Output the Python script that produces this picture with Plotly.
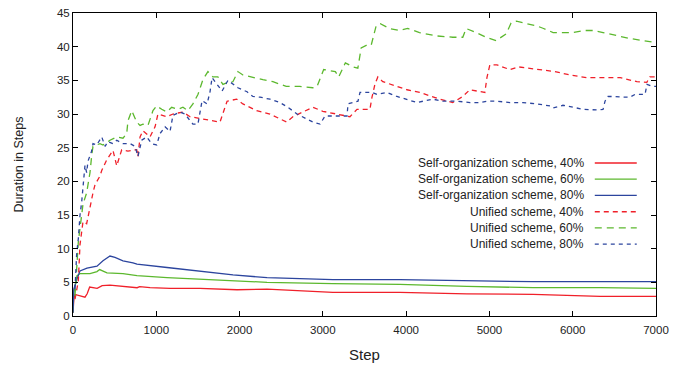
import plotly.graph_objects as go

# ---- Self-organization scheme (solid lines) ----
so40_step = [0, 10, 24, 84, 144, 170, 200, 290, 350, 444, 600, 770, 800, 925, 1165,
             1525, 1970, 2330, 3120, 3925, 4730, 5525, 6330, 7000]
so40_val = [0.5, 2.5, 3.2, 3.0, 2.8, 3.3, 4.3, 4.1, 4.5, 4.6, 4.4, 4.2, 4.35, 4.2, 4.1,
            4.1, 3.9, 4.0, 3.5, 3.5, 3.3, 3.2, 2.9, 2.9]

so60_step = [0, 10, 48, 84, 204, 288, 320, 408, 600, 768, 1129, 1525, 1981, 2330,
             3120, 3925, 4730, 5525, 6330, 7000]
so60_val = [0.5, 3.5, 6.0, 6.3, 6.3, 6.6, 6.9, 6.4, 6.3, 6.0, 5.7, 5.5, 5.2, 5.0,
            4.8, 4.7, 4.4, 4.2, 4.2, 4.1]

so80_step = [0, 10, 48, 84, 168, 288, 360, 408, 444, 504, 600, 720, 768, 1129, 1525,
             1921, 2330, 2725, 3120, 3925, 4730, 5525, 7000]
so80_val = [0.5, 4.0, 5.5, 6.7, 7.1, 7.4, 8.2, 8.6, 8.9, 8.7, 8.2, 7.9, 7.7, 7.2, 6.6,
            6.1, 5.7, 5.5, 5.4, 5.4, 5.2, 5.1, 5.1]

# ---- Unified scheme (dashed lines) ----
un40_step = [24, 64, 84, 104, 120, 164, 204, 240, 264, 324, 345, 405, 480, 525, 585,
             660, 765, 780, 805, 840, 925, 985, 1020, 1125, 1200, 1320, 1405, 1525,
             1680, 1765, 1850, 1965, 2040, 2205, 2365, 2485, 2565, 2640, 2760, 2880,
             3000, 3170, 3325, 3410, 3565, 3590, 3625, 3660, 3720, 3890, 4010, 4165,
             4320, 4405, 4560, 4680, 4765, 4885, 4945, 4970, 5005, 5090, 5245, 5345,
             5485, 5645, 5785, 5965, 6170, 6365, 6570, 6770, 6890, 6925, 7000]
un40_val = [2.5, 5.2, 10.6, 12.5, 14.0, 13.7, 16.4, 18.3, 19.5, 20.8, 21.6, 23.2, 24.6,
            22.3, 24.7, 24.5, 24.7, 23.7, 26.6, 27.5, 26.6, 28.1, 30.0, 29.6, 30.0,
            30.3, 29.6, 29.3, 29.0, 28.8, 31.9, 32.2, 31.5, 30.5, 30.0, 29.3, 28.8,
            29.6, 30.3, 31.0, 30.4, 30.0, 29.6, 30.7, 30.7, 32.5, 34.4, 35.5, 34.8,
            34.1, 33.6, 33.2, 32.5, 32.2, 31.7, 32.6, 33.6, 33.3, 33.2, 35.4, 37.3,
            37.3, 36.6, 37.0, 36.8, 36.6, 36.3, 35.8, 35.4, 35.4, 35.4, 34.8, 34.7,
            35.5, 35.5]

un60_step = [24, 64, 104, 120, 164, 180, 204, 225, 240, 324, 360, 444, 525, 600, 645,
             660, 705, 765, 805, 840, 900, 960, 1005, 1065, 1125, 1185, 1260, 1320,
             1380, 1440, 1500, 1560, 1620, 1680, 1740, 1800, 1860, 1920, 1980, 2040,
             2160, 2280, 2400, 2560, 2720, 2880, 2930, 3010, 3150, 3190, 3270, 3360,
             3420, 3460, 3520, 3580, 3640, 3690, 3800, 3920, 4020, 4160, 4360, 4560,
             4680, 4720, 4840, 4960, 5080, 5200, 5260, 5325, 5450, 5565, 5650, 5765,
             5885, 6005, 6130, 6250, 6365, 6530, 6690, 6850, 7000]
un60_val = [3.0, 11.0, 15.0, 16.6, 18.3, 19.4, 21.3, 23.9, 25.2, 25.6, 25.4, 26.1, 26.6,
            26.4, 27.1, 29.0, 30.5, 28.8, 28.3, 28.5, 28.3, 30.5, 31.2, 30.7, 30.3,
            31.0, 30.7, 31.0, 30.5, 31.5, 32.9, 35.1, 36.3, 35.5, 35.5, 34.4, 34.7,
            34.8, 36.3, 35.8, 35.4, 35.1, 34.8, 34.1, 34.1, 33.9, 34.1, 36.6, 36.3,
            35.5, 37.6, 37.0, 36.8, 39.8, 40.2, 40.2, 43.1, 43.4, 42.7, 42.4, 42.7,
            42.1, 41.6, 41.4, 41.4, 42.7, 42.1, 41.4, 40.9, 41.9, 43.5, 43.8, 43.4,
            43.1, 42.7, 42.1, 42.1, 42.1, 42.4, 42.4, 42.1, 41.6, 41.2, 40.9, 40.6]

un80_step = [24, 44, 64, 84, 104, 120, 144, 164, 180, 224, 240, 285, 345, 385, 420,
             480, 525, 600, 685, 745, 780, 825, 885, 945, 1005, 1045, 1105, 1165, 1200,
             1285, 1345, 1405, 1440, 1500, 1525, 1550, 1610, 1645, 1670, 1730, 1790,
             1860, 1920, 1980, 2090, 2160, 2245, 2365, 2485, 2580, 2690, 2760, 2880,
             2966, 3026, 3146, 3290, 3302, 3362, 3422, 3446, 3590, 3650, 3770, 3890,
             4010, 4131, 4203, 4323, 4443, 4611, 4767, 4887, 4971, 5091, 5247, 5403,
             5571, 5727, 5763, 5883, 6004, 6124, 6292, 6364, 6388, 6424, 6508, 6592,
             6688, 6748, 6868, 6892, 6952, 7000]
un80_val = [4.0, 9.2, 11.5, 15.0, 16.9, 18.8, 22.4, 21.3, 23.0, 24.5, 25.6, 25.4,
            26.6, 25.2, 25.9, 25.6, 26.1, 25.6, 25.6, 25.2, 23.7, 26.1, 26.6, 25.6,
            25.4, 27.1, 28.1, 27.4, 29.8, 30.3, 30.0, 29.0, 28.5, 28.5, 30.0, 32.0,
            31.5, 33.3, 35.4, 34.4, 33.4, 35.0, 34.5, 33.9, 33.3, 32.6, 32.5, 32.2,
            31.7, 31.0, 30.0, 29.6, 28.8, 28.5, 29.7, 29.7, 29.7, 31.5, 31.7, 31.9,
            33.2, 33.2, 32.9, 33.2, 32.6, 32.2, 31.7, 31.9, 32.2, 31.9, 31.9, 31.7,
            31.7, 31.9, 31.9, 31.7, 31.7, 31.5, 31.2, 30.9, 31.3, 31.0, 30.7, 30.6,
            30.7, 31.9, 32.6, 32.6, 32.5, 32.5, 32.9, 32.9, 34.4, 34.1, 34.1]

x_ticks = [0, 1000, 2000, 3000, 4000, 5000, 6000, 7000]
y_ticks = [0, 5, 10, 15, 20, 25, 30, 35, 40, 45]

RED = "#f0202a"
GREEN = "#5cb82e"
BLUE = "#2c459e"

series = [
    ("Self-organization scheme, 40%", so40_step, so40_val, RED, "solid"),
    ("Self-organization scheme, 60%", so60_step, so60_val, GREEN, "solid"),
    ("Self-organization scheme, 80%", so80_step, so80_val, BLUE, "solid"),
    ("Unified scheme, 40%", un40_step, un40_val, RED, "5px,4px"),
    ("Unified scheme, 60%", un60_step, un60_val, GREEN, "7px,5px"),
    ("Unified scheme, 80%", un80_step, un80_val, BLUE, "4px,4px"),
]

fig = go.Figure()
for name, xs, ys, color, dash in series:
    fig.add_trace(go.Scatter(x=xs, y=ys, mode="lines", name=name,
                             line=dict(color=color, width=1.3, dash=dash),
                             showlegend=False))

# key in the upper-right of the plot area: label text then a line sample
FONT = "Liberation Sans, Arial, sans-serif"
row_y = [0.505, 0.452, 0.398, 0.344, 0.291, 0.237]
for (name, _, _, color, dash), yy in zip(series, row_y):
    fig.add_annotation(x=0.88, y=yy, xref="paper", yref="paper", text=name,
                       showarrow=False, xanchor="right", yanchor="middle",
                       font=dict(family=FONT, size=12, color="#222"))
    fig.add_shape(type="line", xref="paper", yref="paper",
                  x0=0.895, x1=0.967, y0=yy, y1=yy,
                  line=dict(color=color, width=1.3, dash=dash))

axis_common = dict(showgrid=False, zeroline=False, showline=True, linecolor="black",
                   linewidth=1, mirror="ticks", ticks="inside", ticklen=5,
                   tickcolor="black", tickfont=dict(family=FONT, size=11.5, color="#222"))

fig.update_xaxes(range=[0, 7000], tickvals=x_ticks, ticklabelstandoff=3,
                 title=dict(text="Step", font=dict(family=FONT, size=15, color="#222"),
                            standoff=14),
                 **axis_common)
fig.update_yaxes(range=[0, 45], tickvals=y_ticks,
                 title=dict(text="Duration in Steps",
                            font=dict(family=FONT, size=12.5, color="#222"), standoff=30),
                 **axis_common)

fig.update_layout(width=696, height=369, margin=dict(l=73, r=40, t=7, b=53),
                  plot_bgcolor="white", paper_bgcolor="white",
                  font=dict(family=FONT))

fig.write_html("out.html")
